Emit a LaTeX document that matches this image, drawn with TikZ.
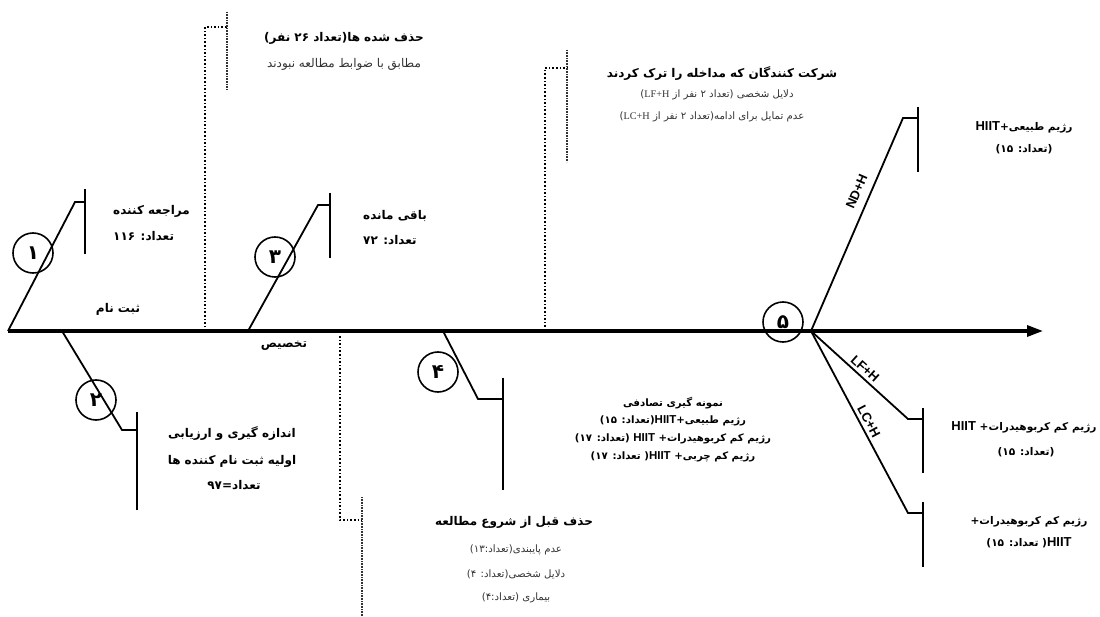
\documentclass[tikz,border=0pt]{standalone}
\usepackage{fontspec}
\usetikzlibrary{arrows.meta}
\TeXXeTstate=1
\newfontfamily\arabicfont[Script=Arabic]{DejaVu Sans}
\newfontfamily\hsans{Liberation Sans}
\newfontfamily\lserif{Liberation Serif}
\newcommand{\myR}[1]{\beginR #1\endR}
\newcommand{\HIIT}[1][11.5]{\beginL{\hsans\bfseries\fontsize{#1}{#1}\selectfont HIIT}\endL}
\newcommand{\LAT}[1]{\beginL{\lserif #1}\endL}
\tikzset{
  axisline/.style={line width=3.2pt, -{Triangle[length=16pt,width=11pt]}},
  bone/.style={line width=1.8pt},
  num/.style={circle, draw, line width=1.6pt, minimum size=40pt, inner sep=0pt, font=\arabicfont\bfseries\fontsize{20}{20}\selectfont},
  dotline/.style={line width=1.6pt, dotted},
  bracket/.style={line width=2.4pt, dash pattern=on 1pt off 0.6pt, black!80},
  txt/.style={inner sep=0pt, text height=0.75em, text depth=0.3em},
  ttl/.style={txt, font=\arabicfont\bfseries\fontsize{12}{14}\selectfont},
  subbig/.style={txt, font=\arabicfont\fontsize{12}{14}\selectfont, text=black!80},
  sub/.style={txt, font=\arabicfont\fontsize{10.2}{12}\selectfont, text=black!80},
  mid/.style={txt, font=\arabicfont\bfseries\fontsize{10.2}{12}\selectfont},
  rgt/.style={txt, font=\arabicfont\bfseries\fontsize{10.6}{13}\selectfont},
  lab/.style={font=\hsans\bfseries\fontsize{13}{13}\selectfont, sloped, above=3pt, inner sep=0pt},
}
\begin{document}
\begin{tikzpicture}[x=1pt,y=-1pt]
\useasboundingbox (0,0) rectangle (1100,617);

% main axis
\coordinate (a0) at (8,331);
\coordinate (a1) at (1043,331);
\draw[axisline] (a0) -- (a1);

% branch 1
\coordinate (b1s) at (8,331);
\coordinate (b1k) at (75,202);
\coordinate (b1h) at (85,202);
\coordinate (b1t) at (85,189);
\coordinate (b1b) at (85,254);
\draw[bone] (b1s) -- (b1k) -- (b1h);
\draw[bone] (b1t) -- (b1b);
\node[num] (c1) at (33,253) {۱};

% branch 2
\coordinate (b2s) at (62,331);
\coordinate (b2k) at (122,430);
\coordinate (b2h) at (137,430);
\coordinate (b2t) at (137,412);
\coordinate (b2b) at (137,510);
\draw[bone] (b2s) -- (b2k) -- (b2h);
\draw[bone] (b2t) -- (b2b);
\node[num] (c2) at (96,400) {۲};

% branch 3
\coordinate (b3s) at (248,331);
\coordinate (b3k) at (318,205);
\coordinate (b3h) at (330,205);
\coordinate (b3t) at (330,193);
\coordinate (b3b) at (330,258);
\draw[bone] (b3s) -- (b3k) -- (b3h);
\draw[bone] (b3t) -- (b3b);
\node[num] (c3) at (275,257) {۳};

% branch 4
\coordinate (b4s) at (443,331);
\coordinate (b4k) at (478,399);
\coordinate (b4h) at (503,399);
\coordinate (b4t) at (503,378);
\coordinate (b4b) at (503,490);
\draw[bone] (b4s) -- (b4k) -- (b4h);
\draw[bone] (b4t) -- (b4b);
\node[num] (c4) at (438,372) {۴};

% branch 5
\coordinate (j5) at (811,331);
\coordinate (ndk) at (903,118);
\coordinate (ndh) at (918,118);
\coordinate (ndt) at (918,107);
\coordinate (ndb) at (918,172);
\coordinate (lfk) at (908,419);
\coordinate (lfh) at (923,419);
\coordinate (lft) at (923,408);
\coordinate (lfb) at (923,473);
\coordinate (lck) at (908,513);
\coordinate (lch) at (923,513);
\coordinate (lct) at (923,502);
\coordinate (lcb) at (923,567);
\draw[bone] (j5) -- node[lab, pos=0.63, above=5pt] (lnd) {ND+H} (ndk) -- (ndh);
\draw[bone] (ndt) -- (ndb);
\draw[bone] (j5) -- node[lab, pos=0.5] (llf) {LF+H} (lfk) -- (lfh);
\draw[bone] (lft) -- (lfb);
\draw[bone] (j5) -- node[lab, pos=0.52] (llc) {LC+H} (lck) -- (lch);
\draw[bone] (lct) -- (lcb);
\node[num] (c5) at (783,322) {۵};

% dotted connectors
\coordinate (d1a) at (205,331);
\coordinate (d1b) at (205,27);
\coordinate (d1c) at (227,27);
\coordinate (d1t) at (227,12);
\coordinate (d1u) at (227,90);
\draw[dotline] (d1a) -- (d1b) -- (d1c);
\draw[bracket] (d1t) -- (d1u);

\coordinate (d2a) at (340,336);
\coordinate (d2b) at (340,520);
\coordinate (d2c) at (362,520);
\coordinate (d2t) at (362,497);
\coordinate (d2u) at (362,617);
\draw[dotline] (d2a) -- (d2b) -- (d2c);
\draw[bracket] (d2t) -- (d2u);

\coordinate (d3a) at (545,327);
\coordinate (d3b) at (545,68);
\coordinate (d3c) at (567,68);
\coordinate (d3t) at (567,50);
\coordinate (d3u) at (567,162);
\draw[dotline] (d3a) -- (d3b) -- (d3c);
\draw[bracket] (d3t) -- (d3u);

% texts
\node[ttl, anchor=west] (t1a) at (113,212) {\myR{مراجعه کننده}};
\node[ttl, anchor=west] (t1b) at (113,238) {\myR{تعداد: ۱۱۶}};
\node[ttl] (tsab) at (118,310) {\myR{ثبت نام}};

\node[ttl] (tdel1) at (344,39) {\myR{حذف شده ها(تعداد ۲۶ نفر)}};
\node[subbig] (tdel2) at (344,65) {\myR{مطابق با ضوابط مطالعه نبودند}};

\node[ttl, anchor=west] (t3a) at (363,217) {\myR{باقی مانده}};
\node[ttl, anchor=west] (t3b) at (363,242) {\myR{تعداد: ۷۲}};
\node[ttl] (ttak) at (284,345) {\myR{تخصیص}};

\node[ttl] (t2a) at (232,435) {\myR{اندازه گیری و ارزیابی}};
\node[ttl] (t2b) at (232,462) {\myR{اولیه ثبت نام کننده ها}};
\node[ttl] (t2c) at (234,487) {\myR{تعداد=۹۷}};

\node[ttl] (tq1) at (514,523) {\myR{حذف قبل از شروع مطالعه}};
\node[sub] (tq2) at (516,550) {\myR{عدم پایبندی(تعداد:۱۳)}};
\node[sub] (tq3) at (516,575) {\myR{دلایل شخصی(تعداد: ۴)}};
\node[sub] (tq4) at (516,598) {\myR{بیماری (تعداد:۴)}};

\node[mid] (tr1) at (673,404) {\myR{نمونه گیری تصادفی}};
\node[mid] (tr2) at (673,421) {\myR{رژیم طبیعی+\HIIT(تعداد: ۱۵)}};
\node[mid] (tr3) at (673,439) {\myR{رژیم کم کربوهیدرات+ \HIIT\ (تعداد: ۱۷)}};
\node[mid] (tr4) at (673,457) {\myR{رژیم کم چربی+ \HIIT( تعداد: ۱۷)}};

\node[ttl] (tw1) at (722,75) {\myR{شرکت کنندگان که مداخله را ترک کردند}};
\node[sub] (tw2) at (717,95) {\myR{دلایل شخصی (تعداد ۲ نفر از \LAT{LF+H})}};
\node[sub] (tw3) at (712,117) {\myR{عدم تمایل برای ادامه(تعداد ۲ نفر از \LAT{LC+H})}};

\node[rgt] (tn1) at (1024,128) {\myR{رژیم طبیعی+\HIIT[13]}};
\node[rgt] (tn2) at (1024,150) {\myR{(تعداد: ۱۵)}};
\node[rgt] (tf1) at (1024,428) {\myR{رژیم کم کربوهیدرات+ \HIIT[13]}};
\node[rgt] (tf2) at (1026,453) {\myR{(تعداد: ۱۵)}};
\node[rgt] (tc1) at (1029,522) {\myR{رژیم کم کربوهیدرات+}};
\node[rgt] (tc2) at (1029,544) {\myR{\HIIT[13]( تعداد: ۱۵)}};
\end{tikzpicture}
\end{document}
